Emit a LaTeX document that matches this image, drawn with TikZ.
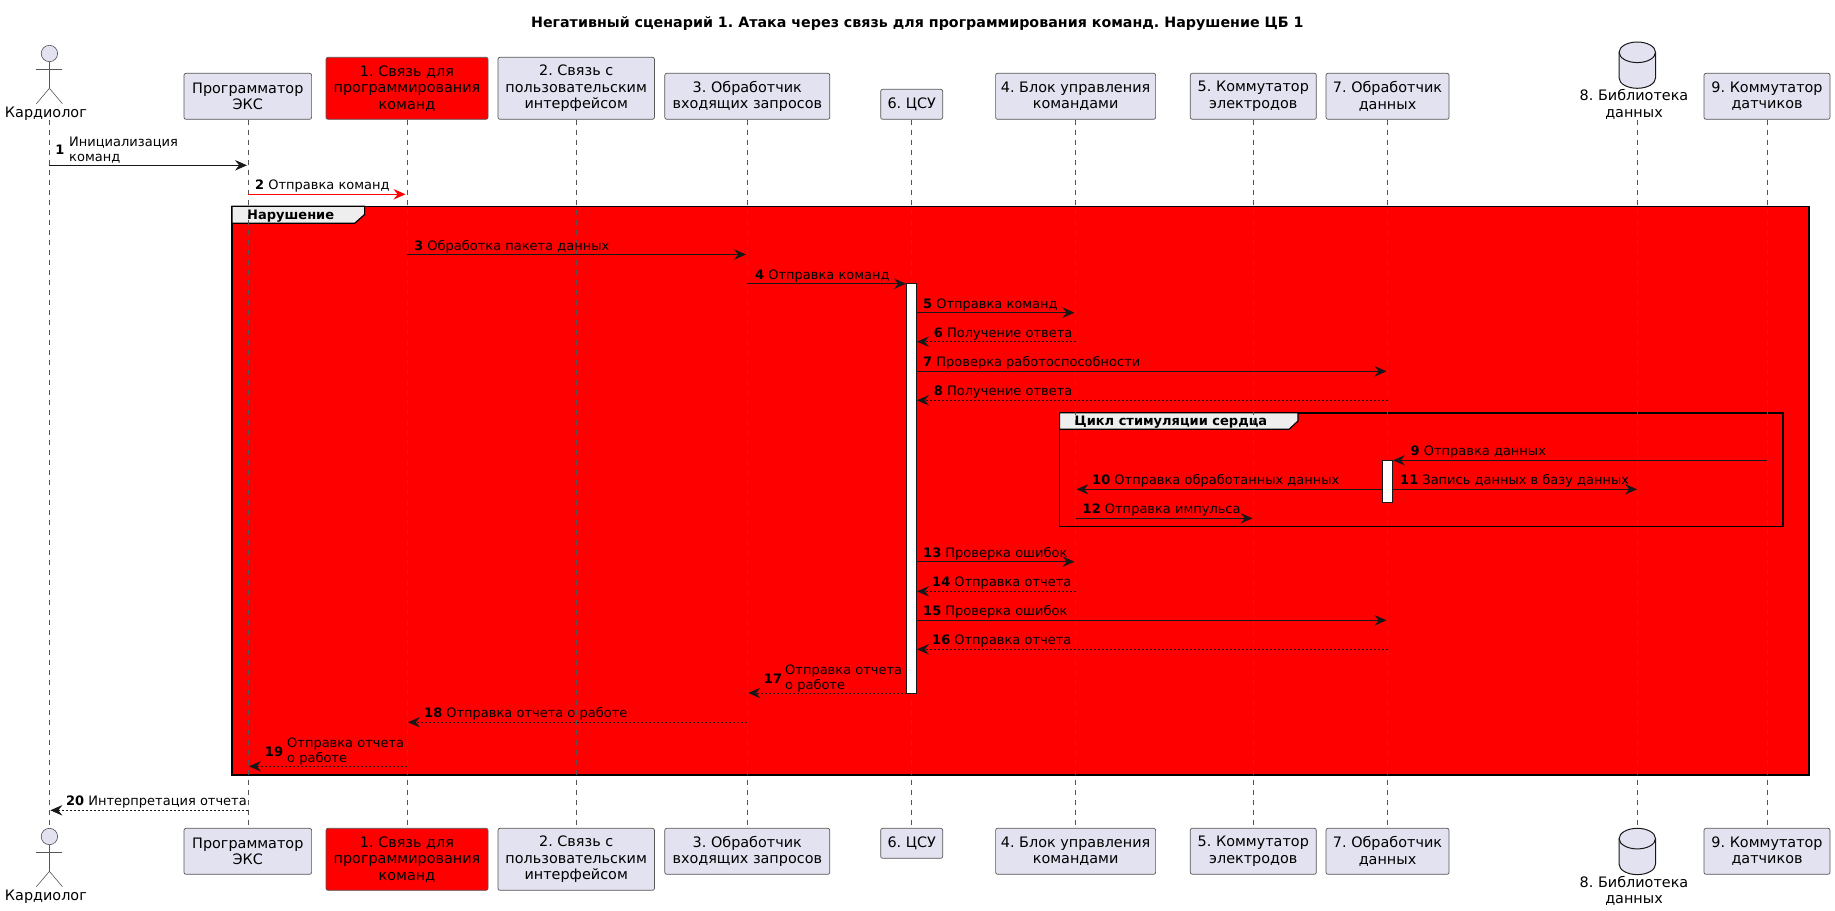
\documentclass[tikz,border=0pt]{standalone}
\usepackage{fontspec}
\setmainfont{DejaVu Sans}
\usetikzlibrary{arrows.meta}
\AtBeginDocument{\frenchspacing}
\definecolor{ink}{HTML}{181818}
\definecolor{thin}{HTML}{555555}
\definecolor{boxfill}{HTML}{E2E2F0}
\definecolor{tabfill}{HTML}{EEEEEE}
\tikzset{
  x=1pt,y=-1pt,
  part/.style={draw=thin,line width=0.7pt,fill=boxfill,rounded corners=2pt,inner sep=0pt,align=center,font=\fontsize{14.4}{16.5}\selectfont,text=black},
  redpart/.style={part,fill=red},
  plainlbl/.style={inner sep=0pt,align=center,font=\fontsize{14.4}{16.5}\selectfont},
  lifeline/.style={draw=thin,line width=0.55pt,dash pattern=on 5pt off 5pt},
  msg/.style={draw=ink,line width=0.9pt,-{Stealth[length=12pt,width=10.5pt,inset=4.2pt,fill=ink]}},
  ret/.style={msg,dash pattern=on 2pt off 2pt},
  redmsg/.style={draw=red,line width=0.9pt,-{Stealth[length=12pt,width=10.5pt,inset=4.2pt,fill=red]}},
  lbl/.style={inner sep=0pt,anchor=base west,font=\fontsize{13}{15}\selectfont},
  lblm/.style={inner sep=0pt,anchor=west,align=left,font=\fontsize{13}{15}\selectfont},
  frameline/.style={draw=black,line width=1.6pt},
  tabshape/.style={draw=black,line width=1.2pt,fill=tabfill},
  framelbl/.style={inner sep=0pt,anchor=base west,font=\bfseries\fontsize{13}{15}\selectfont},
  actorline/.style={draw=thin,line width=0.6pt},
  bar/.style={draw=ink,line width=0.8pt,fill=white},
}
% id, x from, x to, y, style
\newcommand{\Msg}[5]{\coordinate (#1a) at (#2,#4);\coordinate (#1b) at (#3,#4);\draw[#5] (#1a) -- (#1b);}
% id, label x, arrow y, number, text
\newcommand{\Lab}[5]{\node[lbl] (#1t) at (#2,#3-4.4) {\textbf{#4} #5};}
\newcommand{\ActorAt}[3]{%
  \draw[actorline,fill=boxfill] (#2,#3) circle [radius=8.2];
  \draw[actorline] (#2,#3+8.2) -- (#2,#3+34.8);
  \draw[actorline] (#2-13,#3+15.8) -- (#2+13,#3+15.8);
  \draw[actorline] (#2-13,#3+50.2) -- (#2,#3+34.8) -- (#2+13,#3+50.2);
  \coordinate (#1) at (#2,#3);
}
\newcommand{\Cyl}[3]{%
  \draw[draw=ink,line width=1pt,fill=boxfill] (#2-18.2,#3+10.3) arc [start angle=180,end angle=360,x radius=18.2,y radius=10.3]
    -- (#2+18.2,#3+36) arc [start angle=0,end angle=180,x radius=18.2,y radius=10.3] -- cycle;
  \draw[draw=ink,line width=1pt] (#2-18.2,#3+10.3) arc [start angle=180,end angle=0,x radius=18.2,y radius=10.3];
  \coordinate (#1) at (#2,#3);
}
\begin{document}
\begin{tikzpicture}
\useasboundingbox (0,0) rectangle (1835,910);
\node[inner sep=0pt,font=\bfseries\fontsize{14.25}{16}\selectfont] (title) at (917.3,24) {Негативный сценарий 1. Атака через связь для программирования команд. Нарушение ЦБ 1};

% frames
\draw[frameline,fill=red] (232,206.3) rectangle (1808.7,774.7);
\coordinate (fA) at (232,206.3);
\draw[tabshape] (232,206.3) -- (364.6,206.3) -- (364.6,214.5) -- (354.7,223.3) -- (232,223.3) -- cycle;
\node[framelbl] (fAt) at (247,219.3) {Нарушение};
\draw[frameline] (1059.6,412.7) rectangle (1783,526.3);
\draw[tabshape] (1059.6,412.7) -- (1298,412.7) -- (1298,421) -- (1289,429.3) -- (1059.6,429.3) -- cycle;
\node[framelbl] (fBt) at (1074.5,425.5) {Цикл стимуляции сердца};

% top participants
\ActorAt{actT}{49.4}{53.5}
\node[plainlbl] (actTl) at (45.9,113.3) {Кардиолог};
\node[part,minimum width=127.6pt,minimum height=46pt] (pT) at (247.8,96.3) {Программатор\\ЭКС};
\node[redpart,minimum width=162pt,minimum height=62pt] (aT) at (407,88.3) {1. Связь для\\программирования\\команд};
\node[part,minimum width=156.5pt,minimum height=62pt] (bT) at (576.2,88.3) {2. Связь с\\пользовательским\\интерфейсом};
\node[part,minimum width=165pt,minimum height=46pt] (cT) at (747.3,96.3) {3. Обработчик\\входящих запросов};
\node[part,minimum width=62pt,minimum height=30pt] (dT) at (911.7,104.3) {6. ЦСУ};
\node[part,minimum width=160pt,minimum height=46pt] (eT) at (1075.6,96.3) {4. Блок управления\\командами};
\node[part,minimum width=126pt,minimum height=46pt] (fT) at (1253.3,96.3) {5. Коммутатор\\электродов};
\node[part,minimum width=123pt,minimum height=46pt] (gT) at (1387.5,96.3) {7. Обработчик\\данных};
\Cyl{cylT}{1637.3}{42}
\node[plainlbl] (hT) at (1634,104.6) {8. Библиотека\\данных};
\node[part,minimum width=126pt,minimum height=46pt] (iT) at (1767,96.3) {9. Коммутатор\\датчиков};

% bottom participants
\ActorAt{actB}{49.4}{836.5}
\node[plainlbl] (actBl) at (45.9,896.3) {Кардиолог};
\node[part,minimum width=127.6pt,minimum height=46pt] (pB) at (247.8,851.3) {Программатор\\ЭКС};
\node[redpart,minimum width=162pt,minimum height=62pt] (aB) at (407,859.3) {1. Связь для\\программирования\\команд};
\node[part,minimum width=156.5pt,minimum height=62pt] (bB) at (576.2,859.3) {2. Связь с\\пользовательским\\интерфейсом};
\node[part,minimum width=165pt,minimum height=46pt] (cB) at (747.3,851.3) {3. Обработчик\\входящих запросов};
\node[part,minimum width=62pt,minimum height=30pt] (dB) at (911.7,843.3) {6. ЦСУ};
\node[part,minimum width=160pt,minimum height=46pt] (eB) at (1075.6,851.3) {4. Блок управления\\командами};
\node[part,minimum width=126pt,minimum height=46pt] (fB) at (1253.3,851.3) {5. Коммутатор\\электродов};
\node[part,minimum width=123pt,minimum height=46pt] (gB) at (1387.5,851.3) {7. Обработчик\\данных};
\Cyl{cylB}{1637.3}{828.3}
\node[plainlbl] (hB) at (1634,890.8) {8. Библиотека\\данных};
\node[part,minimum width=126pt,minimum height=46pt] (iB) at (1767,851.3) {9. Коммутатор\\датчиков};

% lifelines
\coordinate (l0a) at (49.4,120);
\coordinate (l0b) at (49.4,828);
\coordinate (l8a) at (1637.3,120);
\coordinate (l8b) at (1637.3,828);
\draw[lifeline] (l0a) -- (l0b);
\draw[lifeline] (pT.south) -- (pB.north);
\draw[lifeline] (aT.south) -- (aB.north);
\draw[lifeline] (bT.south) -- (bB.north);
\draw[lifeline] (cT.south) -- (cB.north);
\draw[lifeline] (dT.south) -- (dB.north);
\draw[lifeline] (eT.south) -- (eB.north);
\draw[lifeline] (fT.south) -- (fB.north);
\draw[lifeline] (gT.south) -- (gB.north);
\draw[lifeline] (l8a) -- (l8b);
\draw[lifeline] (iT.south) -- (iB.north);

% activations
\node[bar,minimum width=10pt,inner sep=0pt,minimum height=409.3pt] (act1) at (911.7,488.35) {};
\node[bar,minimum width=10pt,inner sep=0pt,minimum height=42pt] (act2) at (1387.4,481.3) {};

% messages
\Msg{m1}{49.4}{247}{165.3}{msg}
\node[inner sep=0pt,font=\bfseries\fontsize{13}{15}\selectfont] (n1) at (60,150) {1};
\node[lblm] (m1t) at (69,150) {Инициализация\\команд};
\Msg{m2}{248}{405.5}{194.3}{redmsg}
\Lab{m2}{255}{194.3}{2}{Отправка команд}
\Msg{m3}{407}{746}{254.5}{msg}
\Lab{m3}{414}{254.5}{3}{Обработка пакета данных}
\Msg{m4}{747.3}{906}{283.7}{msg}
\Lab{m4}{755}{283.7}{4}{Отправка команд}
\Msg{m5}{917}{1074.5}{312.7}{msg}
\Lab{m5}{923}{312.7}{5}{Отправка команд}
\Msg{m6}{1075.6}{917}{341.7}{ret}
\Lab{m6}{933.7}{341.7}{6}{Получение ответа}
\Msg{m7}{917}{1386.5}{371.3}{msg}
\Lab{m7}{923}{371.3}{7}{Проверка работоспособности}
\Msg{m8}{1387.5}{917}{400.3}{ret}
\Lab{m8}{933.7}{400.3}{8}{Получение ответа}
\Msg{m9}{1767}{1393}{460.3}{msg}
\Lab{m9}{1410.5}{460.3}{9}{Отправка данных}
\Msg{m10}{1382.4}{1076.5}{489.3}{msg}
\Lab{m10}{1092}{489.3}{10}{Отправка обработанных данных}
\Msg{m11}{1392.4}{1637}{489.3}{msg}
\Lab{m11}{1400}{489.3}{11}{Запись данных в базу данных}
\Msg{m12}{1075.6}{1252.5}{518.3}{msg}
\Lab{m12}{1082.5}{518.3}{12}{Отправка импульса}
\Msg{m13}{917}{1074.5}{561.7}{msg}
\Lab{m13}{923}{561.7}{13}{Проверка ошибок}
\Msg{m14}{1075.6}{917}{591.3}{ret}
\Lab{m14}{932}{591.3}{14}{Отправка отчета}
\Msg{m15}{917}{1386.5}{620.3}{msg}
\Lab{m15}{923}{620.3}{15}{Проверка ошибок}
\Msg{m16}{1387.5}{917}{649.3}{ret}
\Lab{m16}{932}{649.3}{16}{Отправка отчета}
\Msg{m17}{906.5}{748.3}{693}{ret}
\node[inner sep=0pt,font=\bfseries\fontsize{13}{15}\selectfont] (n17) at (773,678.3) {17};
\node[lblm] (m17t) at (785,678.3) {Отправка отчета\\о работе};
\Msg{m18}{747.3}{408}{722.3}{ret}
\Lab{m18}{424}{722.3}{18}{Отправка отчета о работе}
\Msg{m19}{407}{249}{766.3}{ret}
\node[inner sep=0pt,font=\bfseries\fontsize{13}{15}\selectfont] (n19) at (274,751.8) {19};
\node[lblm] (m19t) at (287,751.8) {Отправка отчета\\о работе};
\Msg{m20}{247.8}{50.4}{810.3}{ret}
\Lab{m20}{66}{810.3}{20}{Интерпретация отчета}
\end{tikzpicture}
\end{document}
